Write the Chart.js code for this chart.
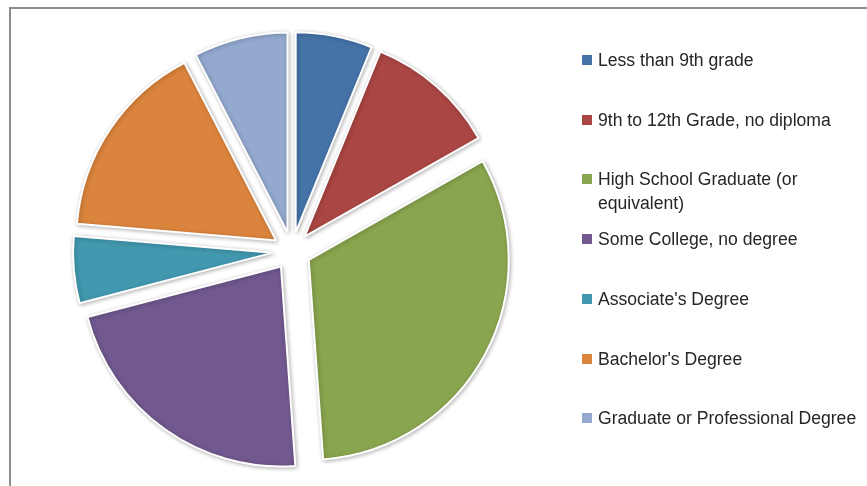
<!DOCTYPE html>
<html>
<head>
<meta charset="utf-8">
<script src="https://cdn.jsdelivr.net/npm/chart.js@4.4.1/dist/chart.umd.min.js"></script>
<style>
  body { margin: 0; background: #fff; }
  #wrap { position: relative; width: 867px; height: 486px; overflow: hidden; }
  #frame { position: absolute; left: 9px; top: 7px; width: 900px; height: 500px;
           border-top: 2px solid #8c8c8c; border-left: 2px solid #8c8c8c; }
  #chart-box { position: absolute; left: 0; top: 0; width: 867px; height: 486px; }
  #legend { position: absolute; left: 582px; top: 48px; width: 290px;
            font-family: 'Liberation Sans', Arial, sans-serif; font-size: 17.6px; color: #262626; }
  .item { position: absolute; left: 0; display: flex; align-items: flex-start; }
  .swatch { width: 10px; height: 10px; margin-top: 7px; margin-right: 6px; flex: none; }
  .txt { width: 268px; line-height: 24px; }
</style>
</head>
<body>
<div id="wrap">
  <div id="frame"></div>
  <div id="chart-box"><canvas id="pie"></canvas></div>
  <div id="legend"></div>
</div>
<script>
const categories = [
  'Less than 9th grade',
  '9th to 12th Grade, no diploma',
  'High School Graduate (or equivalent)',
  'Some College, no degree',
  "Associate's Degree",
  "Bachelor's Degree",
  'Graduate or Professional Degree'
];
const shares = [6.2, 10.6, 32.1, 22.1, 5.4, 16.1, 7.6];
const colors = ['#4572A7', '#AA4643', '#89A54E', '#71588F', '#4198AF', '#DB843D', '#93A9CF'];

const EXPLODE = 19;

// chart.js shrinks the arc offset for small slices, so push every slice out
// by the same distance ourselves (plus a soft shadow like the office chart)
const explodedSlices = {
  id: 'explodedSlices',
  beforeDatasetDraw(chart, args) {
    const ctx = chart.ctx;
    args.meta.data.forEach(arc => {
      const mid = (arc.startAngle + arc.endAngle) / 2;
      ctx.save();
      ctx.shadowColor = 'rgba(0,0,0,0.28)';
      ctx.shadowBlur = 4;
      ctx.shadowOffsetX = 1;
      ctx.shadowOffsetY = 1;
      ctx.translate(Math.cos(mid) * EXPLODE, Math.sin(mid) * EXPLODE);
      arc.draw(ctx, chart.chartArea);
      ctx.restore();
    });
    return false;
  }
};

new Chart(document.getElementById('pie'), {
  type: 'pie',
  data: {
    labels: categories,
    datasets: [{
      data: shares,
      backgroundColor: colors,
      borderColor: '#ffffff',
      borderWidth: 2
    }]
  },
  options: {
    responsive: true,
    maintainAspectRatio: false,
    animation: false,
    layout: { padding: { left: 91, right: 374, top: 50, bottom: 34 } },
    plugins: { legend: { display: false }, tooltip: { enabled: false } }
  },
  plugins: [explodedSlices]
});

// legend on the right, one row every ~60px
const legend = document.getElementById('legend');
categories.forEach((name, i) => {
  const row = document.createElement('div');
  row.className = 'item';
  row.style.top = (i * 59.7) + 'px';
  row.innerHTML = '<span class="swatch" style="background:' + colors[i] + '"></span><span class="txt"></span>';
  row.querySelector('.txt').textContent = name;
  legend.appendChild(row);
});
</script>
</body>
</html>
